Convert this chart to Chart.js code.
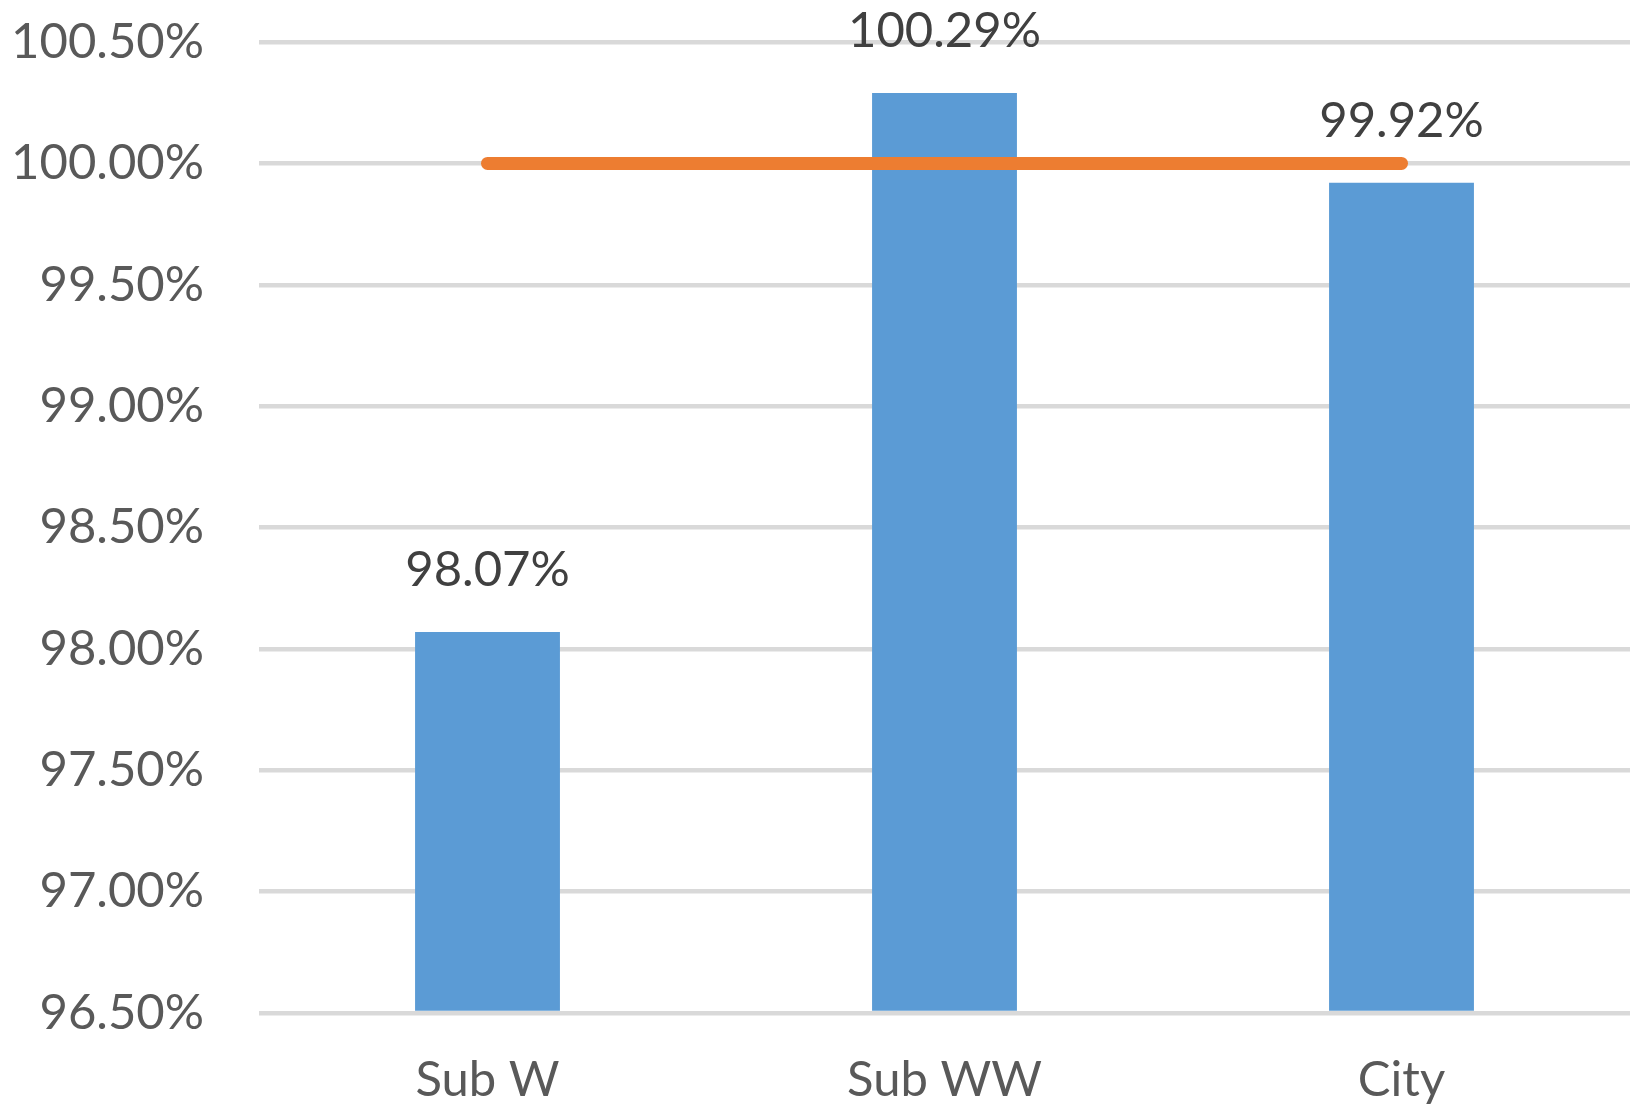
<!DOCTYPE html>
<html>
<head>
<meta charset="utf-8">
<script src="https://cdn.jsdelivr.net/npm/chart.js@4/dist/chart.umd.min.js"></script>
<style>
  html, body { margin: 0; padding: 0; background: #ffffff; }
  #wrap { width: 1638px; height: 1106px; position: relative; }
</style>
</head>
<body>
<div id="wrap"><canvas id="chart" width="1638" height="1106"></canvas></div>
<script>
// Categories and values
const categories = ['Sub W', 'Sub WW', 'City'];
const actualValues = [98.07, 100.29, 99.92];
const targetValues = [100, 100, 100];

// Y axis range
const yMin = 96.5;
const yMax = 100.5;
const yStep = 0.5;

const FONT = 'Lato, "Open Sans", sans-serif';

// Writes each bar's value above it
const barValueLabels = {
  id: 'barValueLabels',
  afterDatasetsDraw(chart) {
    const ctx = chart.ctx;
    const meta = chart.getDatasetMeta(1);
    ctx.save();
    ctx.font = '49px ' + FONT;
    ctx.fillStyle = '#404040';
    ctx.textAlign = 'center';
    ctx.textBaseline = 'middle';
    meta.data.forEach((bar, i) => {
      ctx.fillText(actualValues[i].toFixed(2) + '%', bar.x, bar.y - 62);
    });
    ctx.restore();
  }
};

new Chart(document.getElementById('chart'), {
  data: {
    labels: categories,
    datasets: [
      {
        type: 'line',
        data: targetValues,
        borderColor: '#ED7D31',
        borderWidth: 13,
        borderCapStyle: 'round',
        pointRadius: 0,
        pointHoverRadius: 0,
        fill: false,
        order: 0
      },
      {
        type: 'bar',
        data: actualValues,
        backgroundColor: '#5B9BD5',
        categoryPercentage: 1,
        barPercentage: 0.317,
        base: yMin,
        order: 1
      }
    ]
  },
  options: {
    responsive: false,
    animation: false,
    plugins: {
      legend: { display: false },
      tooltip: { enabled: false }
    },
    layout: { padding: { top: 42, right: 8, left: 0, bottom: 0 } },
    scales: {
      x: {
        grid: { display: false, drawTicks: false },
        border: { display: false },
        ticks: {
          font: { family: FONT, size: 49 },
          color: '#595959',
          padding: 38
        },
        afterFit(scale) { scale.height = 93; }
      },
      y: {
        min: yMin,
        max: yMax,
        grid: { color: '#D9D9D9', lineWidth: 4.5, drawTicks: false },
        border: { display: false },
        ticks: {
          stepSize: yStep,
          font: { family: FONT, size: 49 },
          color: '#595959',
          padding: 55,
          callback: (v) => v.toFixed(2) + '%'
        },
        afterFit(scale) {
          scale.width = 259;
          scale.paddingTop = 0;
          scale.paddingBottom = 0;
        }
      }
    }
  },
  plugins: [barValueLabels]
});
</script>
</body>
</html>
